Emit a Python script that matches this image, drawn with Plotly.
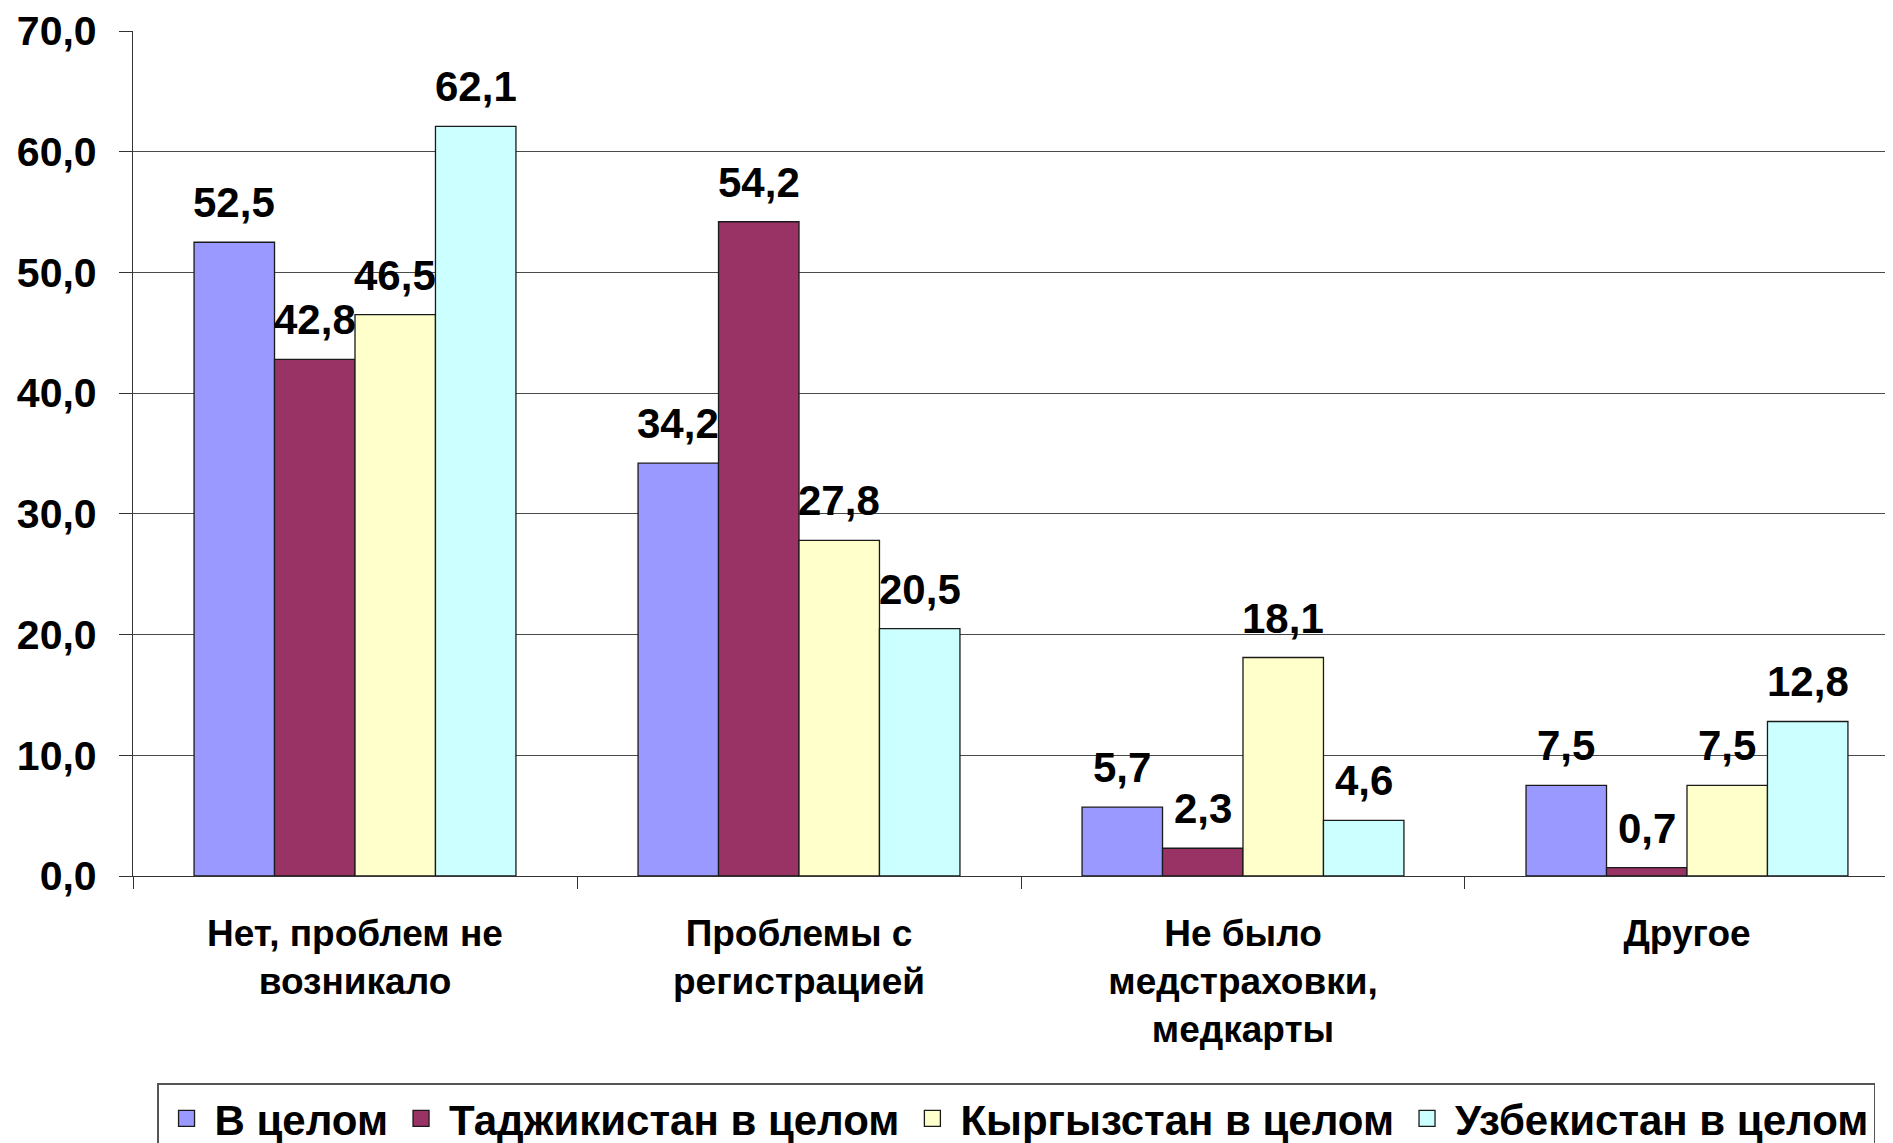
import plotly.graph_objects as go

categories = ["Нет, проблем не<br>возникало", "Проблемы с<br>регистрацией",
              "Не было<br>медстраховки,<br>медкарты", "Другое"]
series_names = ["В целом", "Таджикистан в целом", "Кыргызстан в целом", "Узбекистан в целом"]
v_total = [52.5, 34.2, 5.7, 7.5]
v_tj = [42.8, 54.2, 2.3, 0.7]
v_kg = [46.5, 27.8, 18.1, 7.5]
v_uz = [62.1, 20.5, 4.6, 12.8]
series_values = [v_total, v_tj, v_kg, v_uz]
colors = ["#9999FF", "#993366", "#FFFFCC", "#CCFFFF"]
y_ticks = [0, 10, 20, 30, 40, 50, 60, 70]
y_ticktext = ["0,0", "10,0", "20,0", "30,0", "40,0", "50,0", "60,0", "70,0"]

FONT = "Liberation Sans, Arial, sans-serif"
bargap = 0.275

fig = go.Figure()
for k, (name, vals, col) in enumerate(zip(series_names, series_values, colors)):
    fig.add_trace(go.Bar(
        name=name, x=categories, y=vals, legendgroup=f"g{k}", showlegend=False,
        marker=dict(color=col, line=dict(color="#1a1a1a", width=1.3)),
    ))
# legend-only entries with larger square swatches
for k, (name, col) in enumerate(zip(series_names, colors)):
    fig.add_trace(go.Scatter(
        name=name, x=[None], y=[None], mode="markers", legendgroup=f"g{k}",
        marker=dict(symbol="square", size=16, color=col, line=dict(color="#1a1a1a", width=1.3)),
        hoverinfo="skip",
    ))

n = len(series_names)
w = (1 - bargap) / n
annotations = []
for i, vals in enumerate(series_values):
    for j, v in enumerate(vals):
        annotations.append(dict(
            x=j + (i - (n - 1) / 2) * w, y=v, xref="x", yref="y",
            text=f"{v:.1f}".replace(".", ","), showarrow=False,
            yanchor="bottom", xanchor="center", yshift=14,
            font=dict(family=FONT, size=42, color="black", weight="bold"),
        ))

fig.update_layout(
    width=1893, height=1143,
    margin=dict(l=125, r=0, t=23, b=275, autoexpand=False),
    paper_bgcolor="white", plot_bgcolor="white",
    barmode="group", bargap=bargap, bargroupgap=0,
    annotations=annotations,
    showlegend=True,
    legend=dict(
        orientation="h", x=0.0136, xanchor="left", y=-0.245, yanchor="top",
        bordercolor="#555555", borderwidth=1.5, bgcolor="white",
        font=dict(family=FONT, size=42, color="black", weight="bold"),
        traceorder="normal", itemwidth=46, itemsizing="trace",
    ),
)
fig.update_xaxes(
    type="category", range=[-0.5, 3.482], automargin=False,
    tickson="boundaries", ticks="outside", ticklen=12, tickcolor="#333333", tickwidth=1.3,
    showline=True, linecolor="#333333", linewidth=1.3,
    showgrid=False,
    tickfont=dict(family=FONT, size=37, color="black", weight="bold"),
    ticklabelstandoff=24,
)
fig.update_yaxes(
    range=[0, 70], tickvals=y_ticks, ticktext=y_ticktext, automargin=False,
    ticks="outside", ticklen=13, tickcolor="#333333", tickwidth=1.3,
    showline=True, linecolor="#333333", linewidth=1.3,
    showgrid=True, gridcolor="#4a4a4a", gridwidth=1.3,
    zeroline=False,
    tickfont=dict(family=FONT, size=41, color="black", weight="bold"),
    ticklabelstandoff=14,
)

fig.write_html("out.html")
